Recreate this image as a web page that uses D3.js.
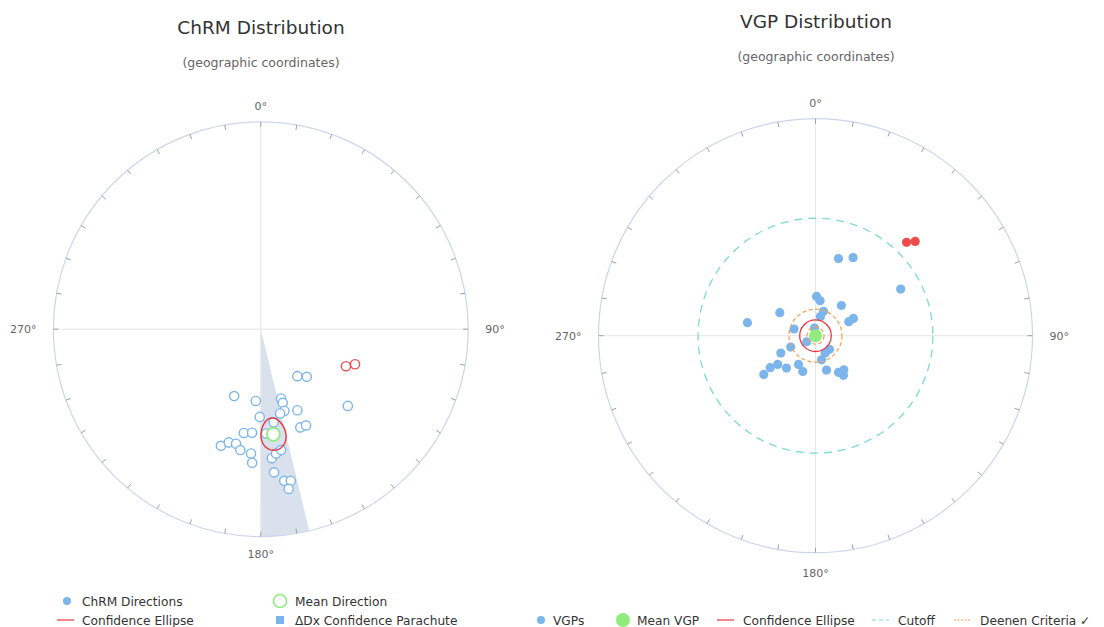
<!DOCTYPE html>
<html>
<head>
<meta charset="utf-8">
<script src="https://d3js.org/d3.v7.min.js"></script>
<style>
  html, body { margin: 0; padding: 0; background: #fff; }
  svg { display: block; font-family: "DejaVu Sans", sans-serif; }
</style>
</head>
<body>
<svg id="chart" width="1104" height="627"></svg>
<script>
// ---------- DATA ----------
// ChRM directions (declination, inclination) — upper hemisphere (open symbols)
const chrmDec = [201.7, 184.0, 163.7, 163.4, 163.9, 167.1, 142.1, 136.0, 155.7, 131.4,
                 180.7, 172.1, 158.1, 154.8, 189.3, 184.8, 177.1, 198.9, 195.8, 192.2,
                 189.6, 184.5, 183.7, 175.1, 173.0, 170.5, 174.7, 171.2, 168.8, 170.1];
const chrmInc = [-61.6, -61.6, -61.5, -59.6, -56.3, -55.7, -66.6, -63.9, -54.7, -43.4,
                 -55.2, -52.6, -47.7, -47.5, -48.0, -48.5, -48.3, -40.3, -42.7, -42.9,
                 -40.6, -39.7, -35.7, -37.6, -39.5, -40.6, -31.3, -26.9, -26.4, -22.9];
// rejected directions
const rejDec = [113.5, 110.4];
const rejInc = [-53.1, -49.9];
// mean direction and its uncertainty
const meanDir = { dec: 173.2, inc: -47.7 };
const deltaDx = 6.7;
const deltaIx = 6.8;

// VGPs relative to the mean pole (azimuth, latitude)
const vgpAz  = [16.6, 25.7, 61.3, 1.5, 7.5, 40.6, 18.2, 14.5, 302.8, 280.8,
                67.2, 65.5, 287.4, 352.6, 235.4, 245.4, 134.4, 151.0, 166.0, 243.5,
                234.8, 232.7, 221.9, 233.2, 210.6, 199.6, 162.2, 147.9, 140.2, 144.8];
const vgpLat = [59.6, 57.2, 53.1, 75.3, 76.8, 75.1, 80.4, 82.6, 74.1, 63.9,
                76.5, 74.4, 81.6, 87.1, 86.0, 79.8, 82.7, 82.6, 80.7, 75.5,
                69.2, 72.2, 73.7, 65.7, 77.5, 75.8, 76.5, 73.8, 73.4, 71.8];
const rejVgpAz  = [44.3, 46.6];
const rejVgpLat = [39.7, 36.9];
const meanVgp = { az: 0, lat: 90 };
const A95 = 5.9;
const cutoffAngle = 45;
const A95min = 3.2;
const A95max = 9.9;

const axisAngles = [0, 90, 180, 270];
const axisLabels = ["0°", "90°", "180°", "270°"];
const tickAngles = d3.range(0, 360, 10);

const leftLegend = [
  { label: "ChRM Directions", type: "dot" },
  { label: "Mean Direction", type: "ring" },
  { label: "Confidence Ellipse", type: "line" },
  { label: "ΔDx Confidence Parachute", type: "square" }
];
const rightLegend = [
  { label: "VGPs", type: "dot" },
  { label: "Mean VGP", type: "greendot" },
  { label: "Confidence Ellipse", type: "line" },
  { label: "Cutoff", type: "cyandash" },
  { label: "Deenen Criteria ✓", type: "orangedash" }
];

// ---------- STYLE ----------
const C = {
  blue: "#7cb5ec", green: "#90ed7d", red: "#e8343f", redPt: "#f04b4b",
  frame: "#ccd6eb", tick: "#a0a0a0", grid: "#e6e6e6", para: "#d9e1ec",
  cyan: "#7fd9d4", orange: "#f5a050", title: "#333", sub: "#666"
};

const svg = d3.select("#chart");

function makeNet(cx, cy, R) {
  const g = svg.append("g").attr("transform", `translate(${cx},${cy})`);
  // equal-area projection: fraction of radius from |inclination|
  const rScale = d3.scaleLinear().domain([0, 1]).range([0, R]);
  const aScale = d3.scaleLinear().domain([0, 360]).range([0, 2 * Math.PI]);
  const proj = (dec, inc) => d3.pointRadial(aScale(dec), rScale(Math.sqrt(1 - Math.sin(Math.abs(inc) * Math.PI / 180))));
  return { g, rScale, aScale, proj, R };
}

function drawFrame(net, labelOff) {
  const { g, R, aScale } = net;
  g.append("line").attr("x1", 0).attr("x2", 0).attr("y1", -R).attr("y2", R).attr("stroke", C.grid);
  g.append("line").attr("y1", 0).attr("y2", 0).attr("x1", -R).attr("x2", R).attr("stroke", C.grid);
  g.append("circle").attr("r", R).attr("fill", "none").attr("stroke", C.frame).attr("stroke-width", 1.2);
  g.selectAll(".tk").data(tickAngles).join("line")
    .attr("x1", d => d3.pointRadial(aScale(d), R)[0])
    .attr("y1", d => d3.pointRadial(aScale(d), R)[1])
    .attr("x2", d => d3.pointRadial(aScale(d), R - 5)[0])
    .attr("y2", d => d3.pointRadial(aScale(d), R - 5)[1])
    .attr("stroke", C.tick).attr("stroke-width", 1);
  g.selectAll(".al").data(axisAngles).join("text")
    .attr("x", (d) => d === 90 ? R + labelOff.side : d === 270 ? -R - labelOff.side : 0)
    .attr("y", (d) => d === 0 ? -R - labelOff.top : d === 180 ? R + labelOff.bottom : 4)
    .attr("text-anchor", d => d === 90 ? "start" : d === 270 ? "end" : "middle")
    .attr("font-size", 11).attr("fill", C.sub)
    .text((d, i) => axisLabels[i]);
}

// ---------- LEFT: ChRM ----------
const L = makeNet(260.8, 329.2, 207.4);
// parachute
L.g.append("path")
  .attr("d", d3.arc()({ innerRadius: 0, outerRadius: L.R,
        startAngle: L.aScale(meanDir.dec - deltaDx), endAngle: L.aScale(meanDir.dec + deltaDx) }))
  .attr("fill", C.para);
drawFrame(L, { top: 12, bottom: 21, side: 17 });
// points
L.g.selectAll(".chrm").data(chrmDec).join("circle")
  .attr("cx", (d, i) => L.proj(d, chrmInc[i])[0])
  .attr("cy", (d, i) => L.proj(d, chrmInc[i])[1])
  .attr("r", 4.6).attr("fill", "#fff").attr("stroke", C.blue).attr("stroke-width", 1.4);
L.g.selectAll(".rej").data(rejDec).join("circle")
  .attr("cx", (d, i) => L.proj(d, rejInc[i])[0])
  .attr("cy", (d, i) => L.proj(d, rejInc[i])[1])
  .attr("r", 4.6).attr("fill", "#fff").attr("stroke", C.redPt).attr("stroke-width", 1.4);
// confidence ellipse
const ell = d3.range(0, 361, 4).map(t => {
  const a = t * Math.PI / 180;
  return L.proj(meanDir.dec + deltaDx * Math.cos(a), Math.abs(meanDir.inc) + deltaIx * Math.sin(a));
});
L.g.append("path").attr("d", d3.line()(ell) + "Z").attr("fill", "none").attr("stroke", C.red).attr("stroke-width", 1.4);
// mean
const mp = L.proj(meanDir.dec, meanDir.inc);
L.g.append("circle").attr("cx", mp[0]).attr("cy", mp[1]).attr("r", 6.5)
  .attr("fill", "#fff").attr("stroke", C.green).attr("stroke-width", 1.8);

// ---------- RIGHT: VGP ----------
const Rn = makeNet(815.5, 335.7, 217);
drawFrame(Rn, { top: 12, bottom: 24, side: 17 });
const ring = (deg) => Rn.rScale(Math.sqrt(1 - Math.cos(deg * Math.PI / 180)));
Rn.g.append("circle").attr("r", ring(cutoffAngle)).attr("fill", "none")
  .attr("stroke", C.cyan).attr("stroke-width", 1.3).attr("stroke-dasharray", "8,6");
Rn.g.selectAll(".vgp").data(vgpAz).join("circle")
  .attr("cx", (d, i) => Rn.proj(d, vgpLat[i])[0])
  .attr("cy", (d, i) => Rn.proj(d, vgpLat[i])[1])
  .attr("r", 4.6).attr("fill", C.blue);
Rn.g.selectAll(".rvgp").data(rejVgpAz).join("circle")
  .attr("cx", (d, i) => Rn.proj(d, rejVgpLat[i])[0])
  .attr("cy", (d, i) => Rn.proj(d, rejVgpLat[i])[1])
  .attr("r", 4.6).attr("fill", C.redPt);
const mv = Rn.proj(meanVgp.az, meanVgp.lat);
Rn.g.append("circle").attr("cx", mv[0]).attr("cy", mv[1]).attr("r", 6.5).attr("fill", C.green);
Rn.g.append("circle").attr("r", ring(A95)).attr("fill", "none").attr("stroke", C.red).attr("stroke-width", 1.3);
Rn.g.append("circle").attr("r", ring(A95min)).attr("fill", "none")
  .attr("stroke", C.orange).attr("stroke-width", 1.2).attr("stroke-dasharray", "4,2.5");
Rn.g.append("circle").attr("r", ring(A95max)).attr("fill", "none")
  .attr("stroke", C.orange).attr("stroke-width", 1.2).attr("stroke-dasharray", "4,2.5");

// ---------- TITLES ----------
function title(x, y, t, s) {
  svg.append("text").attr("x", x).attr("y", y).attr("text-anchor", "middle")
    .attr("font-size", 18.5).attr("fill", C.title).text(t);
  svg.append("text").attr("x", x).attr("y", y + 33).attr("text-anchor", "middle")
    .attr("font-size", 12.5).attr("fill", C.sub).text(s);
}
title(261, 34, "ChRM Distribution", "(geographic coordinates)");
title(816, 28, "VGP Distribution", "(geographic coordinates)");

// ---------- LEGENDS ----------
function symbol(g, type) {
  if (type === "dot") g.append("circle").attr("r", 4).attr("fill", C.blue);
  else if (type === "greendot") g.append("circle").attr("r", 7).attr("fill", C.green);
  else if (type === "ring") g.append("circle").attr("r", 6.5).attr("fill", "#fff").attr("stroke", C.green).attr("stroke-width", 1.5);
  else if (type === "square") g.append("rect").attr("x", -4).attr("y", -4).attr("width", 8).attr("height", 8).attr("fill", C.blue);
  else if (type === "line") g.append("line").attr("x1", -9).attr("x2", 8).attr("stroke", C.red).attr("stroke-width", 1.2);
  else if (type === "cyandash") g.append("line").attr("x1", -9).attr("x2", 8).attr("stroke", C.cyan).attr("stroke-width", 1.2).attr("stroke-dasharray", "4,3");
  else if (type === "orangedash") g.append("line").attr("x1", -9).attr("x2", 8).attr("stroke", C.orange).attr("stroke-width", 1.2).attr("stroke-dasharray", "2,1.5");
}
const leftPos = [[67, 601], [280, 601], [66, 620], [280, 620]];
leftLegend.forEach((d, i) => {
  const g = svg.append("g").attr("transform", `translate(${leftPos[i][0]},${leftPos[i][1]})`);
  symbol(g, d.type);
  g.append("text").attr("x", d.type === "line" ? 16 : 15).attr("y", 4.5).attr("font-size", 12.2).attr("fill", C.title).text(d.label);
});
const rightPos = [541, 623, 726, 881, 963];
rightLegend.forEach((d, i) => {
  const g = svg.append("g").attr("transform", `translate(${rightPos[i]},620)`);
  symbol(g, d.type);
  g.append("text").attr("x", d.type === "dot" ? 12 : d.type === "greendot" ? 14 : 17).attr("y", 4.5)
    .attr("font-size", 12.2).attr("fill", C.title).text(d.label);
});
</script>
</body>
</html>
